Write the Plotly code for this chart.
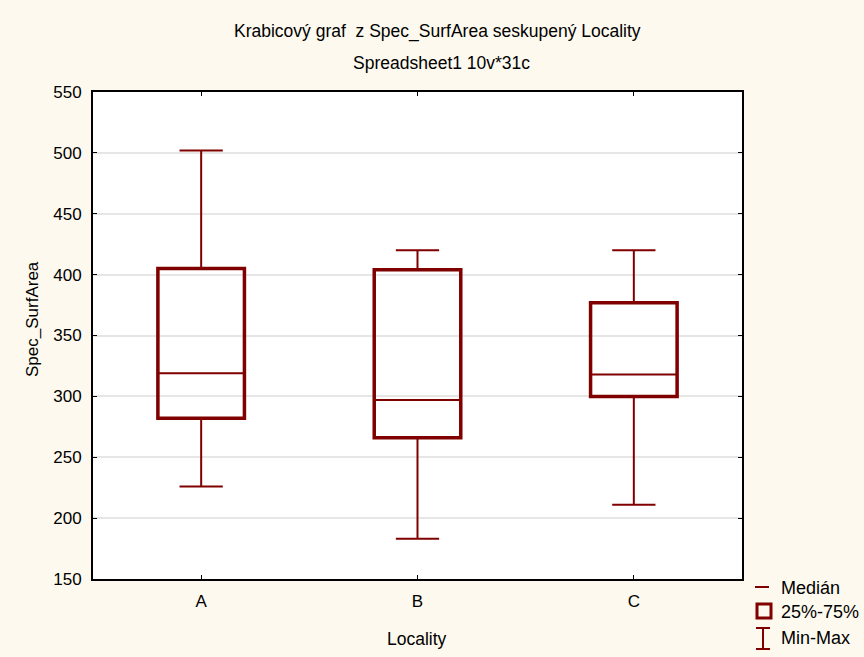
import plotly.graph_objects as go

# Box-plot summary per locality (Spec_SurfArea)
categories = ["A", "B", "C"]
minimum = [226, 183, 211]
q1 = [282, 266, 300]
median = [319, 297, 318]
q3 = [405, 404, 377]
maximum = [502, 420, 420]

y_ticks = [150, 200, 250, 300, 350, 400, 450, 500, 550]

MAROON = "#800000"
BG = "#fdf9ee"
FONT = "Liberation Sans, Arial, sans-serif"

# plot area in page pixels
W, H = 864, 657
L, R, T, B = 93, 742, 92, 579


def px(x):
    return (x - L) / (R - L)


def py(y):
    return (B - y) / (B - T)


fig = go.Figure()

# whiskers (min-max) and median line
fig.add_trace(go.Box(
    x=categories,
    q1=q1, median=median, q3=q3,
    lowerfence=minimum, upperfence=maximum,
    width=0.4, whiskerwidth=0.5,
    boxpoints=False,
    line=dict(color=MAROON, width=2),
    fillcolor="rgba(255,255,255,0)",
    showlegend=False, hoverinfo="skip",
))

# thicker 25%-75% box outline
fig.add_trace(go.Bar(
    x=categories,
    y=[b - a for a, b in zip(q1, q3)],
    base=q1,
    width=0.4,
    marker=dict(color="rgba(255,255,255,0)", line=dict(color=MAROON, width=3.5)),
    showlegend=False, hoverinfo="skip",
))

axis_common = dict(
    showline=True, linecolor="black", linewidth=2, mirror="ticks",
    ticks="inside", ticklen=4, tickcolor="black", tickwidth=1,
    zeroline=False,
    tickfont=dict(family=FONT, size=17, color="black"),
)

fig.update_xaxes(
    type="category", range=[-0.5, 2.5], showgrid=False,
    ticklabelstandoff=6,
    **axis_common,
)
fig.update_yaxes(
    range=[150, 550], tickvals=y_ticks, showgrid=True,
    gridcolor="#e6e6e6", gridwidth=1.5,
    ticklabelstandoff=6,
    **axis_common,
)

annotations = [
    dict(text="Krabicový graf  z Spec_SurfArea seskupený Locality", x=px(437), y=py(32),
         font=dict(size=17.5)),
    dict(text="Spreadsheet1 10v*31c", x=px(441), y=py(63), font=dict(size=17.5)),
    dict(text="Spec_SurfArea", x=px(32), y=py(319), textangle=-90, font=dict(size=17)),
    dict(text="Locality", x=px(417), y=py(639), font=dict(size=17.5)),
    dict(text="Medián", x=px(779), y=py(588), xanchor="left", font=dict(size=18)),
    dict(text="25%-75%", x=px(779), y=py(612), xanchor="left", font=dict(size=18)),
    dict(text="Min-Max", x=px(779), y=py(638), xanchor="left", font=dict(size=18)),
]
for a in annotations:
    a.setdefault("xanchor", "center")
    a.update(xref="paper", yref="paper", yanchor="middle", showarrow=False)
    a["font"] = dict(family=FONT, color="black", **a["font"])

legend_line = dict(color=MAROON, width=2)
shapes = [
    # median key
    dict(type="line", x0=px(755), x1=px(769), y0=py(587), y1=py(587), line=legend_line),
    # quartile box key
    dict(type="rect", x0=px(757), x1=px(771), y0=py(604), y1=py(618),
         line=dict(color=MAROON, width=3)),
    # min-max key
    dict(type="line", x0=px(763), x1=px(763), y0=py(628), y1=py(649), line=legend_line),
    dict(type="line", x0=px(756), x1=px(770), y0=py(628), y1=py(628), line=legend_line),
    dict(type="line", x0=px(756), x1=px(770), y0=py(649), y1=py(649), line=legend_line),
]
for s in shapes:
    s.update(xref="paper", yref="paper")

fig.update_layout(
    width=W, height=H,
    margin=dict(l=L, r=W - R, t=T, b=H - B),
    paper_bgcolor=BG, plot_bgcolor="white",
    font=dict(family=FONT, color="black"),
    showlegend=False,
    annotations=annotations,
    shapes=shapes,
)

fig.write_html("out.html")
